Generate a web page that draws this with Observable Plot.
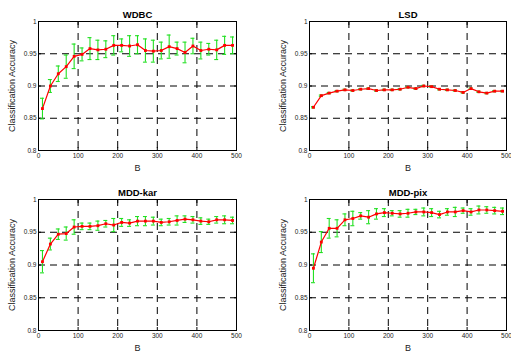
<!DOCTYPE html>
<html><head><meta charset="utf-8">
<script src="https://cdn.jsdelivr.net/npm/d3@7"></script>
<script src="https://cdn.jsdelivr.net/npm/@observablehq/plot@0.6"></script>
<style>
body{margin:0;background:#fff}
#c{position:relative;width:511px;height:352px;overflow:hidden;background:#fff}
#c svg{position:absolute}
</style>
</head><body><div id="c"></div>
<script>
const B = [10,30,50,70,90,110,130,150,170,190,210,230,250,270,290,310,330,350,370,390,410,430,450,470,490];
const xTicks = [0,100,200,300,400,500];
const yTicks = [0.8,0.85,0.9,0.95,1];
const xGrid = [100,200,300,400];
const yGrid = [0.85,0.9,0.95];

const wdbcMean = [0.865,0.900,0.919,0.930,0.946,0.949,0.958,0.956,0.957,0.963,0.963,0.962,0.964,0.955,0.954,0.955,0.961,0.958,0.952,0.962,0.955,0.957,0.956,0.963,0.963];
const wdbcErr  = [0.016,0.010,0.012,0.018,0.019,0.010,0.017,0.015,0.013,0.015,0.010,0.016,0.014,0.018,0.017,0.013,0.018,0.010,0.016,0.012,0.013,0.009,0.015,0.014,0.013];
const lsdMean  = [0.867,0.885,0.889,0.892,0.894,0.893,0.895,0.896,0.893,0.894,0.894,0.895,0.898,0.896,0.900,0.899,0.895,0.894,0.893,0.890,0.896,0.891,0.889,0.892,0.892];
const lsdErr   = [0.001,0.001,0.001,0.001,0.001,0.001,0.001,0.001,0.001,0.001,0.001,0.001,0.001,0.001,0.001,0.001,0.001,0.001,0.001,0.001,0.001,0.001,0.001,0.001,0.001];
const karMean  = [0.905,0.932,0.947,0.948,0.958,0.959,0.959,0.960,0.963,0.961,0.965,0.964,0.967,0.967,0.967,0.965,0.966,0.968,0.970,0.969,0.967,0.966,0.969,0.969,0.968];
const karErr   = [0.017,0.009,0.008,0.010,0.011,0.005,0.005,0.007,0.005,0.010,0.006,0.005,0.007,0.007,0.006,0.005,0.005,0.007,0.005,0.005,0.005,0.004,0.005,0.006,0.005];
const pixMean  = [0.895,0.935,0.956,0.956,0.969,0.971,0.975,0.973,0.978,0.980,0.979,0.978,0.979,0.981,0.981,0.980,0.977,0.981,0.981,0.983,0.981,0.984,0.984,0.983,0.982];
const pixErr   = [0.022,0.016,0.015,0.013,0.009,0.011,0.005,0.010,0.008,0.006,0.004,0.005,0.006,0.004,0.006,0.006,0.005,0.005,0.007,0.004,0.005,0.006,0.005,0.005,0.005];

const titles = ["WDBC","LSD","MDD-kar","MDD-pix"];
const means = [wdbcMean, lsdMean, karMean, pixMean];
const errs = [wdbcErr, lsdErr, karErr, pixErr];

const layout = [
  {left:0,   top:0,   width:255, height:176, mL:38, mR:19, mT:21, mB:26},
  {left:255, top:0,   width:256, height:176, mL:54, mR:5,  mT:21, mB:26},
  {left:0,   top:176, width:255, height:176, mL:38, mR:19, mT:23, mB:22},
  {left:255, top:176, width:256, height:176, mL:54, mR:5,  mT:23, mB:22}
];

const font = "'Liberation Sans', Arial, Helvetica, sans-serif";
const container = document.getElementById("c");

titles.forEach((title, i) => {
  const L = layout[i];
  const rows = B.map((b, j) => ({B: b, mean: means[i][j], err: errs[i][j]}));
  const plot = Plot.plot({
    width: L.width, height: L.height,
    marginLeft: L.mL, marginRight: L.mR, marginTop: L.mT, marginBottom: L.mB,
    style: {fontFamily: font, background: "white", overflow: "visible"},
    x: {domain: [0, 500]},
    y: {domain: [0.8, 1]},
    marks: [
      Plot.gridX({ticks: xGrid, stroke: "black", strokeOpacity: 1, strokeWidth: 1, strokeDasharray: "7,5"}),
      Plot.gridY({ticks: yGrid, stroke: "black", strokeOpacity: 1, strokeWidth: 1, strokeDasharray: "7,5"}),
      Plot.axisX({ticks: xTicks, anchor: "bottom", tickSize: -3, tickFormat: () => "", label: null}),
      Plot.axisX({ticks: xTicks, anchor: "top", tickSize: -3, tickFormat: () => "", label: null}),
      Plot.axisY({ticks: yTicks, anchor: "left", tickSize: -3, tickFormat: () => "", label: null}),
      Plot.axisY({ticks: yTicks, anchor: "right", tickSize: -3, tickFormat: () => "", label: null}),
      Plot.axisX({ticks: xTicks, anchor: "bottom", tickSize: 0, tickPadding: 3, tickFormat: d => String(d), fontSize: 6.5, fill: "#222", label: null}),
      Plot.axisY({ticks: yTicks, anchor: "left", tickSize: 0, tickPadding: 2, tickFormat: d => String(d), fontSize: 6.5, fill: "#222", label: null}),
      Plot.ruleX(rows, {x: "B", y1: d => d.mean - d.err, y2: d => d.mean + d.err, stroke: "#22e022", strokeWidth: 1.1}),
      Plot.ruleY(rows, {y: d => d.mean - d.err, x1: d => d.B - 5, x2: d => d.B + 5, stroke: "#22e022", strokeWidth: 1.1}),
      Plot.ruleY(rows, {y: d => d.mean + d.err, x1: d => d.B - 5, x2: d => d.B + 5, stroke: "#22e022", strokeWidth: 1.1}),
      Plot.line(rows, {x: "B", y: "mean", stroke: "#ff0000", strokeWidth: 1.2}),
      Plot.dot(rows, {x: "B", y: "mean", symbol: "square", r: 1.6, fill: "#ff0000", stroke: "none"}),
      Plot.frame({stroke: "black", strokeWidth: 1}),
      Plot.text([title], {text: d => d, frameAnchor: "top", dy: -10, fontWeight: "bold", fontSize: 9.5, fill: "black"}),
      Plot.text(["B"], {text: d => d, frameAnchor: "bottom", dy: 20, fontSize: 9, fill: "#222"}),
      Plot.text(["Classification Accuracy"], {text: d => d, frameAnchor: "left", textAnchor: "middle", rotate: -90, dx: -26, fontSize: 9, fill: "#222"})
    ]
  });
  plot.style.left = L.left + "px";
  plot.style.top = L.top + "px";
  container.appendChild(plot);
});
</script>
</body></html>
